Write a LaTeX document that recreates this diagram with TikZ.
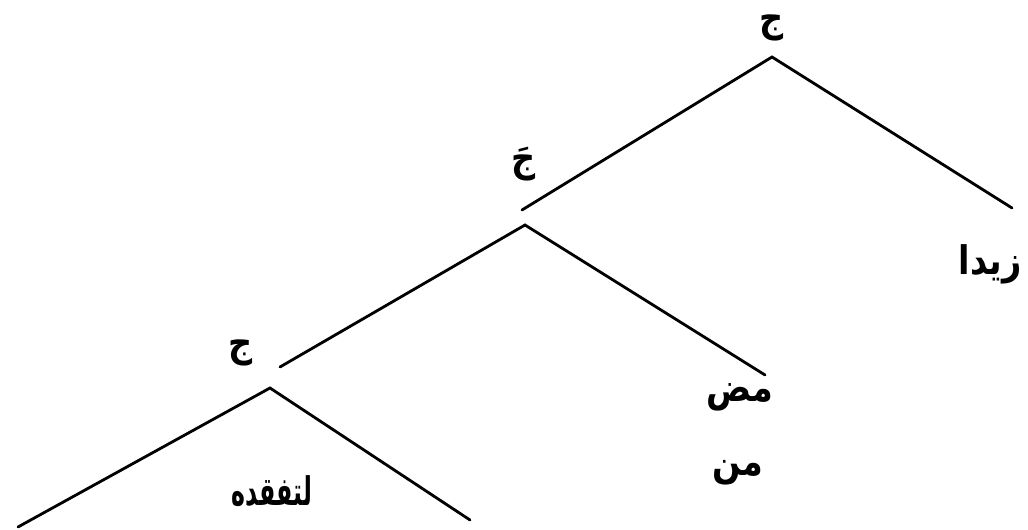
\documentclass[tikz,border=0pt]{standalone}
\usepackage{fontspec}
\newfontfamily\arabicfont[Script=Arabic]{DejaVu Sans}
\TeXXeTstate=1
\newcommand{\textoAr}[2][0.85]{\scalebox{#1}[1]{\beginR #2\endR}}

\begin{document}
\begin{tikzpicture}[
  rama/.style={line width=2pt, line cap=round},
  etiqueta/.style={inner sep=0pt, font=\arabicfont\bfseries\fontsize{28}{32}\selectfont},
]
  \useasboundingbox (0,0) rectangle (25.7,13.225);

  % Nivel superior
  \node[etiqueta] (raiz) at (19.3,12.525) {\textoAr{ج}};
  \coordinate (verticeA) at (19.3,11.8);
  \coordinate (finAizq) at (13.05,7.975);
  \coordinate (finAder) at (25.3,8.025);
  \draw[rama] (finAizq) -- (verticeA) -- (finAder);
  \node[etiqueta] (zaydan) at (24.75,6.625) {\textoAr{زيدا}};

  % Nivel medio
  \node[etiqueta] (jimBarra) at (13.1,9.125) {\textoAr{جَ}};
  \coordinate (verticeB) at (13.125,7.6);
  \coordinate (finBizq) at (7.0,4.05);
  \coordinate (finBder) at (19.125,3.85);
  \draw[rama] (finBizq) -- (verticeB) -- (finBder);
  \node[etiqueta] (mada) at (18.5,3.3) {\textoAr{مض}};
  \node[etiqueta] (min) at (18.45,1.4) {\textoAr{من}};

  % Nivel inferior
  \node[etiqueta] (jimBajo) at (6.025,4.4) {\textoAr{ج}};
  \coordinate (verticeC) at (6.75,3.525);
  \coordinate (finCizq) at (0.45,0.05);
  \coordinate (finCder) at (11.75,0.225);
  \draw[rama] (finCizq) -- (verticeC) -- (finCder);
  \node[etiqueta] (tafaqqud) at (6.8,0.95) {\textoAr[0.6]{لتفقده}};
\end{tikzpicture}
\end{document}
